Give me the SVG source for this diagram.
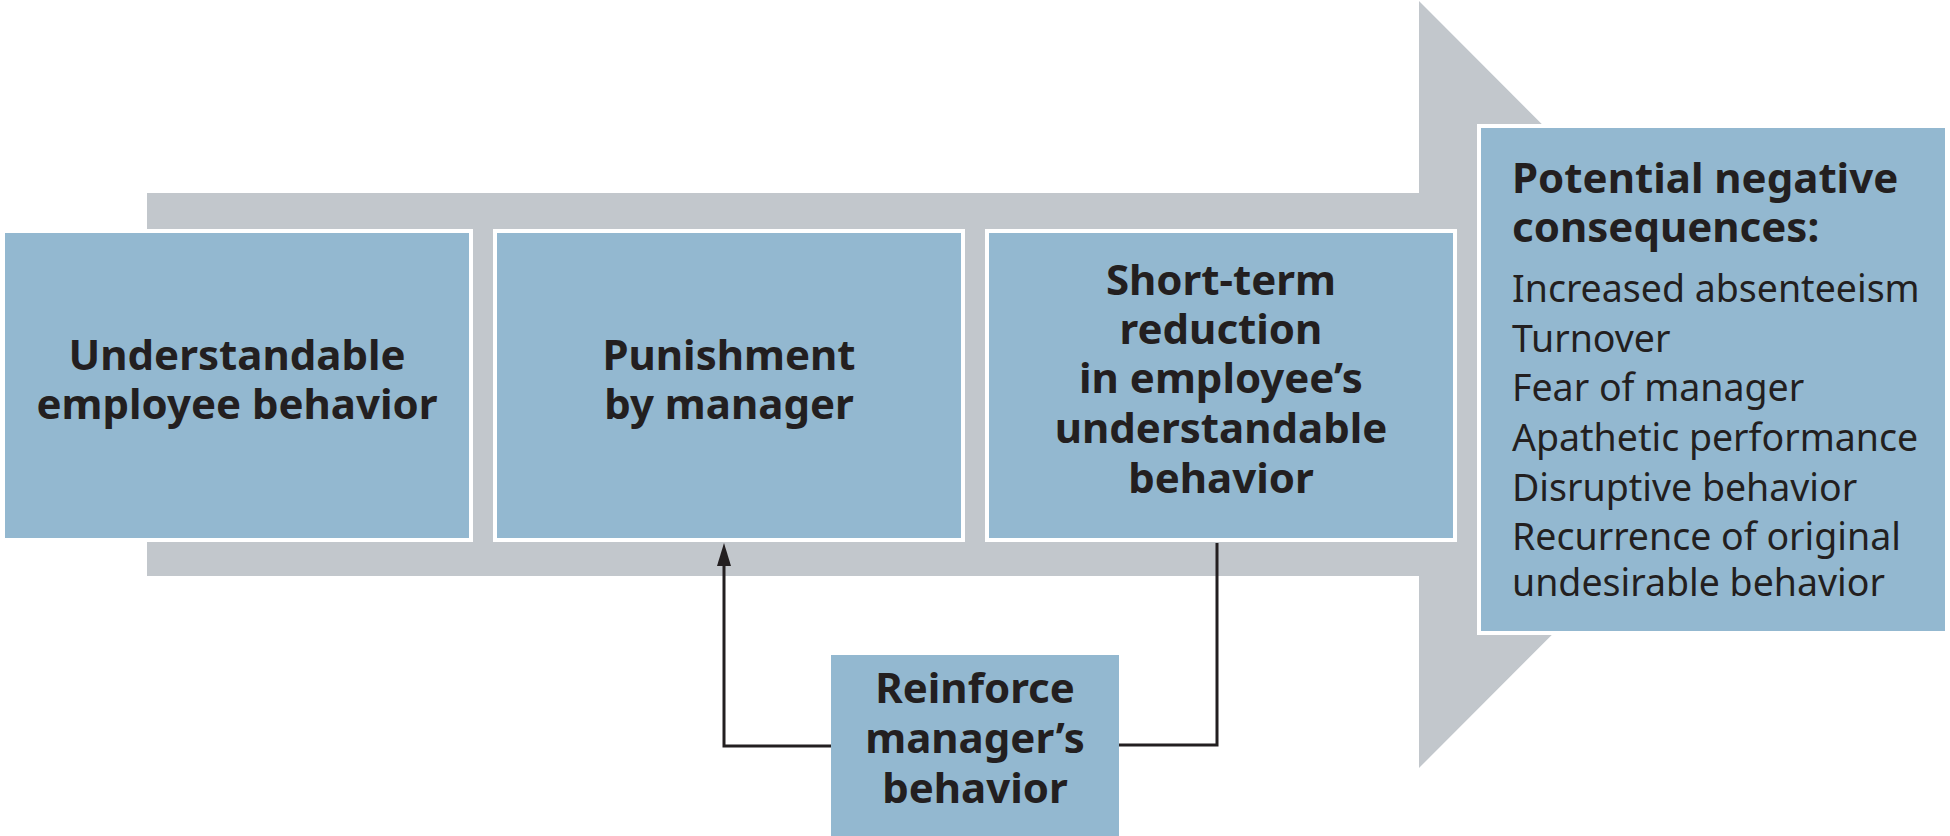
<svg xmlns="http://www.w3.org/2000/svg" width="1950" height="836" viewBox="0 0 1950 836">
  <style>
    .frame { fill: #ffffff; }
    .box { fill: #93b8d0; }
    .bold { font-family: "Noto Sans", "Open Sans", "DejaVu Sans", sans-serif; font-weight: 700; font-size: 42px; fill: #231f20; text-anchor: middle; }
    .head { font-family: "Noto Sans", "Open Sans", "DejaVu Sans", sans-serif; font-weight: 700; font-size: 42px; fill: #231f20; }
    .reg { font-family: "Noto Sans", "Open Sans", "DejaVu Sans", sans-serif; font-weight: 400; font-size: 37.5px; fill: #231f20; }
    .conn { fill: none; stroke: #231f20; stroke-width: 3; }
  </style>
  <defs>
    <marker id="arrowhead" markerUnits="userSpaceOnUse" markerWidth="16" markerHeight="24" refX="8" refY="0" orient="auto-start-reverse" viewBox="0 -2 16 26">
      <path d="M0,23 L8,0 L16,23 Z" fill="#231f20"/>
    </marker>
  </defs>
  <rect width="1950" height="836" fill="#ffffff"/>

  <g id="big-arrow">
    <polygon points="147,193 1419,193 1419,1 1802,384.5 1419,768 1419,576 147,576" fill="#c2c7cc"/>
  </g>

  <g id="connectors">
    <polyline class="conn" points="831,746 724,746 724,566"/>
    <path d="M724,543 L731,566 L717,566 Z" fill="#231f20"/>
    <polyline class="conn" points="1119,745 1217,745 1217,543"/>
  </g>

  <g id="node-understandable">
    <rect class="frame" x="1" y="229" width="472" height="313"/>
    <rect class="box" x="5" y="233" width="464" height="305"/>
    <text class="bold" x="237" y="370">Understandable</text>
    <text class="bold" x="237" y="419">employee behavior</text>
  </g>

  <g id="node-punishment">
    <rect class="frame" x="493" y="229" width="472" height="313"/>
    <rect class="box" x="497" y="233" width="464" height="305"/>
    <text class="bold" x="729" y="370">Punishment</text>
    <text class="bold" x="729" y="419">by manager</text>
  </g>

  <g id="node-reduction">
    <rect class="frame" x="985" y="229" width="472" height="313"/>
    <rect class="box" x="989" y="233" width="464" height="305"/>
    <text class="bold" x="1221" y="295">Short-term</text>
    <text class="bold" x="1221" y="344">reduction</text>
    <text class="bold" x="1221" y="393">in employee’s</text>
    <text class="bold" x="1221" y="443">understandable</text>
    <text class="bold" x="1221" y="493">behavior</text>
  </g>

  <g id="node-consequences">
    <rect class="frame" x="1477" y="124" width="473" height="511"/>
    <rect class="box" x="1481" y="128" width="464" height="503"/>
    <text class="head" x="1512" y="193">Potential negative</text>
    <text class="head" x="1512" y="242">consequences:</text>
    <text class="reg" x="1512" y="302">Increased absenteeism</text>
    <text class="reg" x="1512" y="352">Turnover</text>
    <text class="reg" x="1512" y="401">Fear of manager</text>
    <text class="reg" x="1512" y="451">Apathetic performance</text>
    <text class="reg" x="1512" y="501">Disruptive behavior</text>
    <text class="reg" x="1512" y="550">Recurrence of original</text>
    <text class="reg" x="1512" y="596">undesirable behavior</text>
  </g>

  <g id="node-reinforce">
    <rect class="box" x="831" y="655" width="288" height="185"/>
    <text class="bold" x="975" y="703">Reinforce</text>
    <text class="bold" x="975" y="753">manager’s</text>
    <text class="bold" x="975" y="803">behavior</text>
  </g>
</svg>
